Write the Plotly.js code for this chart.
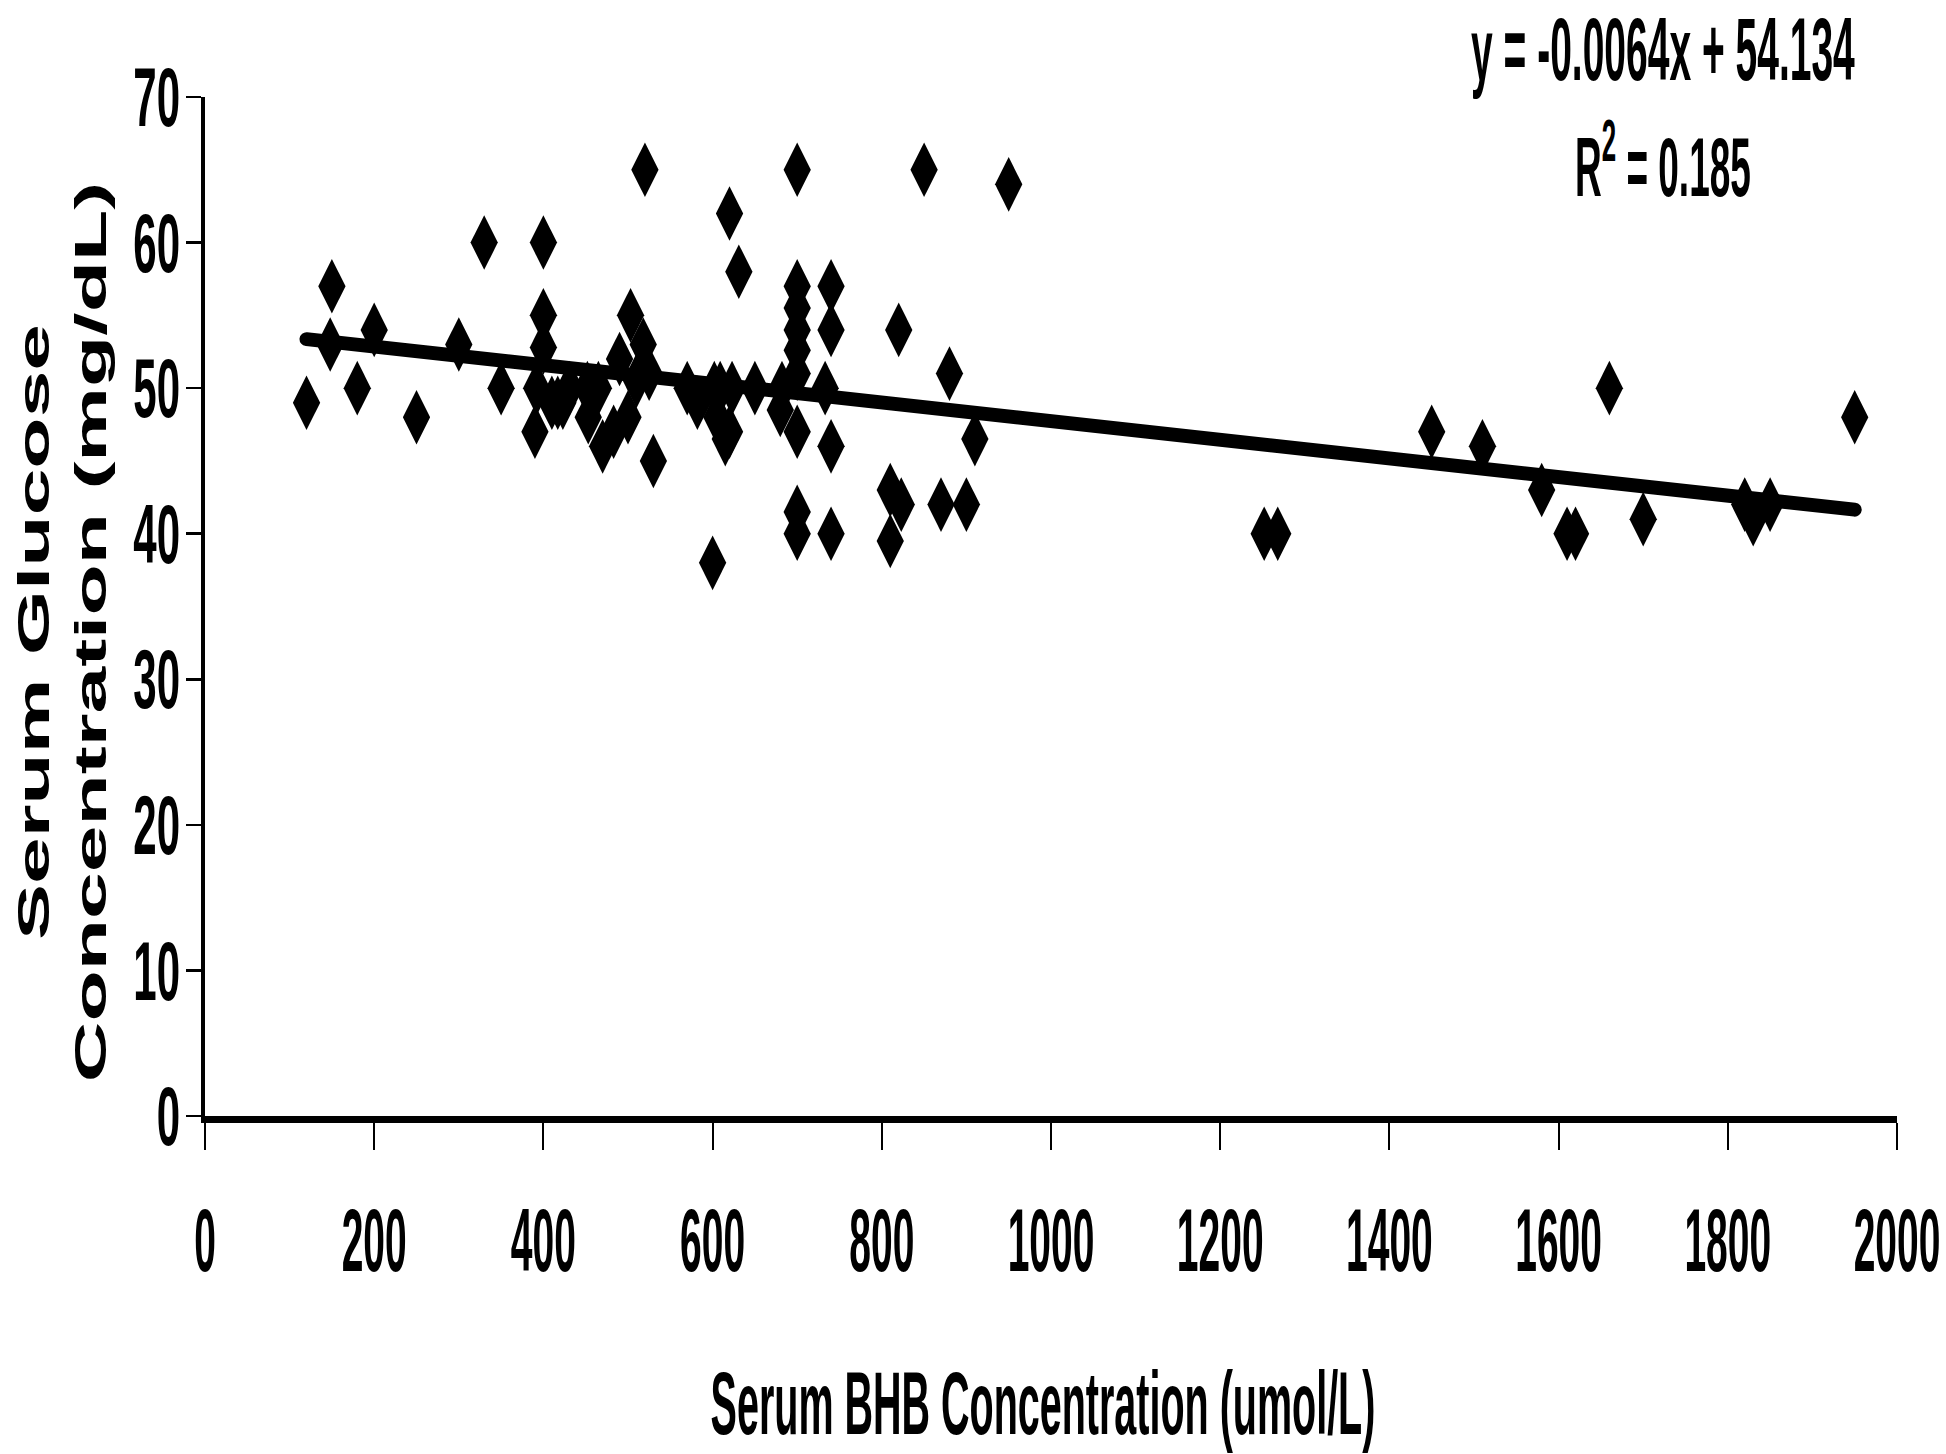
<!DOCTYPE html>
<html>
<head>
<meta charset="utf-8">
<script src="https://cdn.plot.ly/plotly-3.0.1.min.js"></script>
<style>
  html, body { margin: 0; padding: 0; background: #ffffff; }
  #chart { width: 1946px; height: 1454px; }
</style>
</head>
<body>
<div id="chart"></div>
<script>
// ---- Data ----
const bhb = [120, 148, 150, 180, 200, 250, 300, 330, 350, 390,
             392, 400, 400, 400, 410, 417, 423, 431, 452, 453,
             465, 470, 483, 490, 500, 503, 510, 518, 520, 525,
             530, 570, 582, 600, 602, 605, 609, 615, 620, 620,
             623, 631, 650, 680, 682, 700, 700, 700, 700, 700,
             700, 700, 700, 700, 733, 740, 740, 740, 740, 810,
             810, 823, 820, 850, 870, 880, 900, 910, 950, 1252,
             1268, 1450, 1510, 1580, 1610, 1620, 1660, 1700, 1820, 1830,
             1850, 1950];
const glucose = [49, 53, 57, 50, 54, 48, 53, 60, 50, 47,
                 50, 60, 55, 52.8, 49, 49, 49, 50, 50, 48,
                 50, 46, 47, 52, 48, 55, 50.5, 53, 65, 51,
                 45, 50, 49, 38, 50, 48, 50, 46.5, 62, 47,
                 50, 58, 50, 48.5, 50, 65, 57, 55.5, 54, 52.6,
                 51, 47, 41.5, 40, 50, 57, 54, 46, 40, 43,
                 39.5, 42, 54, 65, 42, 51, 42, 46.5, 64, 40,
                 40, 47, 46, 43, 40, 40, 50, 41, 42, 41,
                 42, 48];
const fitSlope = -0.0064;
const fitIntercept = 54.134;
const rSquared = 0.185;
const xTicks = [0, 200, 400, 600, 800, 1000, 1200, 1400, 1600, 1800, 2000];
const yTicks = [0, 10, 20, 30, 40, 50, 60, 70];
const xTitle = 'Serum BHB Concentration (umol/L)';
const yTitle = 'Serum Glucose<br>Concentration (mg/dL)';

// trend line across the data range, from the equation shown on the chart
const xMin = Math.min.apply(null, bhb);
const xMax = Math.max.apply(null, bhb);
const fitX = [xMin, xMax];
const fitY = fitX.map(v => fitSlope * v + fitIntercept);

const FONT = 'Liberation Sans, Arial, sans-serif';

const traces = [
  {
    type: 'scatter', mode: 'markers', x: bhb, y: glucose,
    marker: { symbol: 'diamond-tall', size: 39, color: '#000000', line: { width: 0 } },
    hoverinfo: 'skip', showlegend: false
  },
  {
    type: 'scatter', mode: 'lines', x: fitX, y: fitY,
    line: { color: '#000000', width: 14 },
    hoverinfo: 'skip', showlegend: false
  }
];

const layout = {
  width: 1946, height: 1454,
  paper_bgcolor: '#ffffff', plot_bgcolor: '#ffffff',
  margin: { l: 205, r: 49, t: 97, b: 338, pad: 0 },
  showlegend: false,
  hovermode: false,
  font: { family: FONT, color: '#000000' },
  xaxis: {
    range: [0, 2000], tickmode: 'array', tickvals: xTicks, ticktext: xTicks.map(String),
    showline: true, linecolor: '#000000', linewidth: 7,
    ticks: 'outside', ticklen: 27, tickwidth: 2, tickcolor: '#000000',
    tickangle: 0, ticklabelstandoff: 40, ticklabeloverflow: 'allow',
    showgrid: false, zeroline: false, fixedrange: true,
    tickfont: { family: FONT, size: 39, weight: 'bold', color: '#000000' },
    title: { text: xTitle, font: { family: FONT, size: 39.5, weight: 'bold', color: '#000000' }, standoff: 60 }
  },
  yaxis: {
    range: [0, 70], tickmode: 'array', tickvals: yTicks, ticktext: yTicks.map(String),
    showline: true, linecolor: '#000000', linewidth: 4,
    ticks: 'outside', ticklen: 15, tickwidth: 2.5, tickcolor: '#000000',
    ticklabelstandoff: 4,
    showgrid: false, zeroline: false, fixedrange: true,
    tickfont: { family: FONT, size: 42, weight: 'bold', color: '#000000' },
    title: { text: yTitle, font: { family: FONT, size: 84, weight: 'bold', color: '#000000' }, standoff: 10 }
  },
  annotations: [
    {
      xref: 'paper', yref: 'paper', x: 0.8617, y: 1.047, xanchor: 'center', yanchor: 'middle',
      text: 'y = ' + fitSlope + 'x + ' + fitIntercept, showarrow: false,
      font: { family: FONT, size: 39, weight: 'bold', color: '#000000' }
    },
    {
      xref: 'paper', yref: 'paper', x: 0.8617, y: 0.937, xanchor: 'center', yanchor: 'middle',
      text: 'R<sup>2</sup> = ' + rSquared, showarrow: false,
      font: { family: FONT, size: 37, weight: 'bold', color: '#000000' }
    }
  ]
};

// condensed-text look of the original figure (text stays real SVG text):
// scale about the text's own centre, then optionally move it to a target pixel position
function shape(el, sx, sy, opt) {
  if (!el) return;
  opt = opt || {};
  const bb = el.getBBox();
  const ax = bb.x + bb.width / 2;
  const ay = bb.y + bb.height / 2;
  const t0 = el.getAttribute('transform') || '';
  el.setAttribute('transform', t0 + ' translate(' + ax + ',' + ay + ') scale(' + sx + ',' + sy + ') translate(' + (-ax) + ',' + (-ay) + ')');
  const host = document.getElementById('chart').getBoundingClientRect();
  const r = el.getBoundingClientRect();
  let dx = 0, dy = 0;
  if (opt.cx !== undefined) dx = opt.cx - (r.left - host.left + r.width / 2);
  if (opt.right !== undefined) dx = opt.right - (r.right - host.left);
  if (opt.cy !== undefined) dy = opt.cy - (r.top - host.top + r.height / 2);
  if (dx || dy) el.setAttribute('transform', 'translate(' + dx + ',' + dy + ') ' + el.getAttribute('transform'));
}

Plotly.newPlot('chart', traces, layout, { staticPlot: true, displayModeBar: false }).then(function (gd) {
  gd.querySelectorAll('.xtick text').forEach(el => shape(el, 1, 2.26, { cy: 1240 }));
  gd.querySelectorAll('.ytick text').forEach(el => shape(el, 1, 2.0, { right: 180 }));
  shape(gd.querySelector('.xtitle'), 1, 2.27, { cx: 1043, cy: 1403 });
  shape(gd.querySelector('.ytitle'), 1, 0.52, { cx: 62, cy: 632 });
  gd.querySelectorAll('.annotation-text').forEach(el => shape(el, 1, 2.27));
  gd.querySelectorAll('.scatterlayer .js-line').forEach(p => { p.style.strokeLinecap = 'round'; });
});
</script>
</body>
</html>
